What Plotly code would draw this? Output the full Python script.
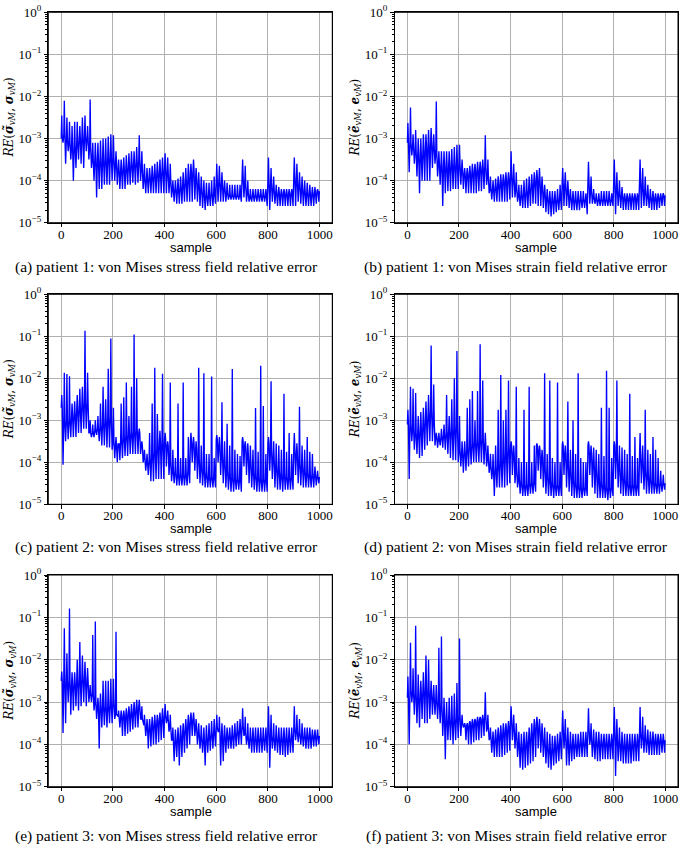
import plotly.graph_objects as go

# ---------------- data (log10 of relative error, one value per 10-sample block) ----------------
# each panel: hi = spike top, mid = band centre, lo = spike bottom, for blocks 0..99
a_hi = [-2.45, -2.1, -2.5, -2.6, -2.7, -2.6, -2.6, -2.7, -2.5, -2.45,
        -2.7, -2.07, -3.1, -3.1, -3.1, -3.05, -3.0, -3.0, -2.95, -2.9,
        -2.92, -3.3, -3.5, -3.5, -3.45, -3.4, -3.35, -3.3, -3.3, -3.2,
        -2.92, -3.3, -3.6, -3.7, -3.7, -3.65, -3.6, -3.55, -3.5, -3.45,
        -3.35, -3.45, -3.6, -4.0, -4.0, -3.95, -3.9, -3.8, -3.7, -3.6,
        -3.6, -3.5, -3.7, -3.8, -3.9, -4.0, -4.05, -4.05, -4.0, -3.9,
        -3.6, -3.65, -3.8, -4.0, -4.05, -4.1, -4.1, -4.1, -4.1, -4.1,
        -3.5, -3.65, -4.0, -4.2, -4.2, -4.2, -4.2, -4.2, -4.2, -4.2,
        -3.45, -3.7, -3.9, -4.1, -4.15, -4.2, -4.2, -4.2, -4.2, -4.2,
        -3.45, -3.6, -3.8, -3.9, -4.0, -4.05, -4.1, -4.15, -4.15, -4.2]
a_mid = [-3.0, -2.9, -3.0, -3.1, -3.2, -3.2, -3.1, -3.0, -2.95, -2.95,
         -3.0, -3.2, -3.5, -3.5, -3.5, -3.5, -3.5, -3.5, -3.45, -3.4,
         -3.45, -3.6, -3.75, -3.75, -3.7, -3.7, -3.65, -3.6, -3.6, -3.55,
         -3.5, -3.7, -3.95, -3.95, -3.9, -3.9, -3.85, -3.8, -3.8, -3.75,
         -3.7, -3.8, -4.0, -4.2, -4.2, -4.2, -4.15, -4.1, -4.0, -3.95,
         -3.8, -3.75, -3.95, -4.1, -4.2, -4.3, -4.35, -4.35, -4.3, -4.3,
         -4.0, -4.0, -4.1, -4.2, -4.3, -4.35, -4.35, -4.35, -4.35, -4.35,
         -3.9, -4.1, -4.3, -4.4, -4.35, -4.35, -4.35, -4.35, -4.35, -4.35,
         -4.0, -4.1, -4.2, -4.3, -4.3, -4.3, -4.3, -4.3, -4.3, -4.3,
         -3.9, -4.0, -4.1, -4.2, -4.25, -4.3, -4.3, -4.3, -4.3, -4.25]
a_lo = [-3.1, -3.6, -3.3, -3.5, -4.0, -3.7, -3.5, -3.6, -3.7, -3.3,
        -3.5, -3.7, -4.0, -4.4, -4.2, -4.2, -4.1, -4.1, -4.1, -4.0,
        -4.0, -4.1, -4.2, -4.2, -4.2, -4.1, -4.1, -4.05, -4.1, -4.05,
        -4.0, -4.2, -4.3, -4.3, -4.3, -4.3, -4.3, -4.3, -4.3, -4.3,
        -4.3, -4.3, -4.4, -4.5, -4.55, -4.55, -4.55, -4.5, -4.5, -4.5,
        -4.5, -4.45, -4.5, -4.6, -4.65, -4.7, -4.6, -4.6, -4.6, -4.55,
        -4.5, -4.5, -4.5, -4.5, -4.45, -4.45, -4.45, -4.45, -4.45, -4.5,
        -4.4, -4.5, -4.5, -4.5, -4.5, -4.5, -4.5, -4.5, -4.5, -4.6,
        -4.7, -4.5, -4.55, -4.6, -4.6, -4.6, -4.6, -4.6, -4.6, -4.6,
        -4.6, -4.5, -4.55, -4.6, -4.6, -4.6, -4.6, -4.6, -4.55, -4.5]

b_hi = [-2.63, -2.26, -2.9, -2.8, -3.0, -3.0, -2.9, -2.9, -2.8, -2.75,
        -2.9, -2.12, -3.3, -3.3, -3.3, -3.3, -3.3, -3.25, -3.2, -3.15,
        -3.15, -3.5, -3.7, -3.7, -3.65, -3.6, -3.6, -3.55, -3.55, -3.5,
        -2.92, -3.5, -3.9, -4.0, -3.95, -3.9, -3.85, -3.85, -3.8, -3.8,
        -3.3, -3.6, -3.8, -4.1, -4.1, -4.0, -3.95, -3.9, -3.85, -3.8,
        -3.75, -3.7, -3.9, -4.1, -4.2, -4.25, -4.25, -4.25, -4.2, -4.1,
        -3.7, -3.8, -4.0, -4.2, -4.25, -4.25, -4.25, -4.25, -4.25, -4.3,
        -3.55, -3.9, -4.2, -4.3, -4.3, -4.25, -4.25, -4.25, -4.25, -4.3,
        -3.5, -3.8, -4.0, -4.15, -4.3, -4.3, -4.3, -4.3, -4.3, -4.3,
        -3.5, -3.7, -3.9, -4.1, -4.2, -4.25, -4.3, -4.3, -4.3, -4.3]
b_mid = [-3.1, -3.1, -3.2, -3.3, -3.4, -3.4, -3.3, -3.2, -3.15, -3.1,
         -3.2, -3.35, -3.6, -3.65, -3.65, -3.65, -3.65, -3.6, -3.6, -3.6,
         -3.6, -3.75, -3.85, -3.85, -3.8, -3.8, -3.75, -3.75, -3.7, -3.7,
         -3.65, -3.9, -4.2, -4.2, -4.15, -4.1, -4.05, -4.0, -4.0, -3.95,
         -3.85, -3.95, -4.2, -4.35, -4.35, -4.3, -4.25, -4.2, -4.1, -4.0,
         -3.95, -3.95, -4.15, -4.3, -4.4, -4.45, -4.45, -4.45, -4.45, -4.4,
         -4.05, -4.1, -4.25, -4.4, -4.45, -4.45, -4.45, -4.45, -4.45, -4.45,
         -4.0, -4.25, -4.4, -4.45, -4.45, -4.45, -4.45, -4.45, -4.45, -4.45,
         -4.0, -4.2, -4.3, -4.35, -4.4, -4.4, -4.4, -4.4, -4.4, -4.4,
         -4.0, -4.15, -4.25, -4.35, -4.4, -4.4, -4.4, -4.4, -4.4, -4.35]
b_lo = [-3.8, -3.4, -3.6, -3.9, -4.3, -4.0, -4.0, -4.0, -4.0, -3.7,
        -3.6, -3.9, -4.1, -4.6, -4.3, -4.25, -4.25, -4.2, -4.2, -4.2,
        -4.1, -4.2, -4.3, -4.3, -4.3, -4.3, -4.3, -4.25, -4.25, -4.2,
        -4.1, -4.3, -4.45, -4.5, -4.5, -4.5, -4.5, -4.5, -4.5, -4.45,
        -4.4, -4.4, -4.5, -4.6, -4.65, -4.65, -4.65, -4.6, -4.55, -4.55,
        -4.6, -4.6, -4.65, -4.75, -4.8, -4.85, -4.8, -4.75, -4.7, -4.7,
        -4.6, -4.6, -4.65, -4.7, -4.7, -4.7, -4.7, -4.65, -4.65, -4.8,
        -4.55, -4.55, -4.55, -4.6, -4.6, -4.6, -4.6, -4.6, -4.6, -4.6,
        -4.8, -4.6, -4.65, -4.7, -4.7, -4.7, -4.7, -4.7, -4.7, -4.7,
        -4.65, -4.6, -4.6, -4.65, -4.7, -4.7, -4.7, -4.65, -4.6, -4.6]

c_hi = [-2.4, -1.87, -1.9, -1.95, -2.6, -2.55, -2.4, -2.25, -2.2, -0.87,
        -1.87, -3.0, -3.1, -3.0, -2.9, -2.6, -2.2, -2.5, -1.77, -1.05,
        -2.7, -3.4, -3.6, -2.6, -2.45, -2.1, -2.9, -2.2, -0.96, -2.0,
        -3.2, -3.5, -3.7, -3.8, -3.3, -2.6, -1.75, -2.85, -3.25, -1.89,
        -3.3, -3.5, -2.1, -3.7, -3.9, -2.6, -3.9, -2.1, -3.9, -3.4,
        -3.3, -3.4, -3.5, -1.75, -3.6, -1.88, -3.8, -3.8, -1.96, -3.9,
        -3.35, -3.4, -2.57, -3.5, -3.08, -3.6, -1.78, -3.7, -3.8, -3.85,
        -3.4, -3.5, -3.55, -3.6, -3.7, -2.71, -3.75, -1.70, -2.66, -3.8,
        -3.4, -2.07, -3.5, -3.55, -3.6, -3.7, -2.37, -3.75, -3.3, -3.8,
        -3.3, -3.55, -2.68, -3.6, -3.7, -3.4, -3.75, -3.8, -4.1, -4.2]
c_mid = [-2.7, -3.0, -3.0, -3.0, -2.9, -2.85, -2.75, -2.7, -2.6, -2.55,
         -2.6, -3.3, -3.3, -3.25, -3.2, -3.15, -3.05, -3.0, -2.95, -2.9,
         -3.5, -3.6, -3.55, -3.45, -3.4, -3.35, -3.3, -3.3, -3.25, -3.2,
         -3.3, -3.6, -3.9, -4.0, -3.95, -3.8, -3.7, -3.6, -3.5, -3.5,
         -3.45, -3.6, -4.0, -4.2, -4.25, -4.3, -4.3, -4.3, -4.3, -4.2,
         -3.5, -3.55, -3.7, -3.9, -4.1, -4.2, -4.3, -4.35, -4.35, -4.35,
         -3.45, -3.6, -3.8, -4.0, -4.2, -4.3, -4.35, -4.4, -4.4, -4.4,
         -3.5, -3.6, -3.8, -4.0, -4.2, -4.3, -4.35, -4.4, -4.4, -4.4,
         -3.55, -3.7, -3.9, -4.1, -4.2, -4.3, -4.3, -4.35, -4.35, -4.35,
         -3.65, -3.8, -4.0, -4.1, -4.2, -4.25, -4.3, -4.3, -4.3, -4.35]
c_lo = [-4.06, -3.5, -3.45, -3.4, -3.4, -3.4, -3.3, -3.3, -3.2, -3.2,
        -3.3, -3.4, -3.4, -3.35, -3.5, -3.6, -3.6, -3.65, -3.65, -3.7,
        -3.9, -4.0, -3.95, -3.9, -3.85, -3.85, -3.8, -3.8, -3.8, -3.8,
        -3.8, -4.0, -4.2, -4.3, -4.45, -4.45, -4.4, -4.4, -4.4, -4.4,
        -4.1, -4.3, -4.45, -4.5, -4.55, -4.55, -4.55, -4.55, -4.55, -4.5,
        -4.0, -4.2, -4.4, -4.5, -4.55, -4.6, -4.6, -4.6, -4.6, -4.6,
        -4.0, -4.3, -4.5, -4.6, -4.65, -4.7, -4.7, -4.65, -4.65, -4.7,
        -4.1, -4.3, -4.5, -4.6, -4.65, -4.7, -4.7, -4.7, -4.7, -4.7,
        -4.2, -4.4, -4.6, -4.65, -4.65, -4.7, -4.65, -4.65, -4.65, -4.65,
        -4.3, -4.5, -4.55, -4.6, -4.6, -4.6, -4.6, -4.6, -4.55, -4.5]

d_hi = [-2.75, -2.2, -2.25, -2.35, -2.9, -2.8, -2.7, -2.55, -2.4, -1.22,
        -2.15, -3.3, -3.3, -3.2, -3.1, -2.4, -2.9, -2.5, -2.0, -1.35,
        -2.9, -3.5, -3.5, -2.7, -2.5, -2.3, -3.0, -2.3, -1.19, -2.05,
        -3.3, -3.6, -3.8, -3.8, -3.6, -2.75, -1.92, -3.0, -2.75, -2.05,
        -3.5, -3.6, -2.2, -3.9, -4.0, -2.75, -4.0, -2.2, -4.0, -3.6,
        -3.55, -3.6, -3.7, -1.88, -3.8, -2.05, -3.9, -4.0, -2.1, -4.0,
        -3.5, -3.6, -2.55, -3.7, -3.0, -3.8, -1.88, -3.9, -4.0, -4.0,
        -3.5, -3.6, -3.65, -3.7, -3.8, -2.7, -3.85, -1.82, -2.7, -3.9,
        -3.5, -2.05, -3.6, -3.65, -3.7, -3.8, -2.37, -3.85, -3.4, -3.9,
        -3.3, -3.6, -2.75, -3.7, -3.8, -3.4, -3.7, -3.9, -4.2, -4.3]
d_mid = [-3.1, -3.1, -3.2, -3.3, -3.3, -3.2, -3.1, -2.95, -2.85, -2.75,
         -3.0, -3.4, -3.45, -3.4, -3.35, -3.3, -3.25, -3.2, -3.15, -3.1,
         -3.7, -3.8, -3.75, -3.7, -3.6, -3.55, -3.5, -3.5, -3.45, -3.4,
         -3.6, -3.9, -4.1, -4.2, -4.15, -4.05, -3.95, -3.85, -3.75, -3.65,
         -3.6, -3.8, -4.2, -4.4, -4.5, -4.55, -4.55, -4.5, -4.5, -4.45,
         -3.6, -3.7, -3.9, -4.1, -4.3, -4.4, -4.5, -4.55, -4.55, -4.55,
         -3.6, -3.8, -4.0, -4.2, -4.4, -4.5, -4.55, -4.6, -4.6, -4.6,
         -3.6, -3.8, -4.0, -4.2, -4.4, -4.5, -4.55, -4.6, -4.6, -4.6,
         -3.6, -3.8, -4.1, -4.3, -4.4, -4.5, -4.55, -4.55, -4.55, -4.55,
         -3.8, -4.0, -4.2, -4.3, -4.4, -4.45, -4.5, -4.5, -4.5, -4.5]
d_lo = [-4.4, -3.5, -3.7, -3.8, -3.9, -3.85, -3.7, -3.6, -3.5, -3.5,
        -3.6, -3.65, -3.6, -3.65, -3.7, -3.8, -3.9, -3.95, -3.95, -4.0,
        -4.1, -4.25, -4.2, -4.1, -4.05, -4.0, -4.0, -4.0, -4.0, -4.05,
        -4.1, -4.25, -4.4, -4.8, -4.6, -4.6, -4.6, -4.6, -4.55, -4.5,
        -4.3, -4.5, -4.6, -4.75, -4.8, -4.8, -4.8, -4.75, -4.75, -4.7,
        -4.2, -4.4, -4.6, -4.75, -4.8, -4.8, -4.85, -4.8, -4.8, -4.8,
        -4.3, -4.6, -4.7, -4.8, -4.85, -4.85, -4.85, -4.85, -4.8, -4.8,
        -4.3, -4.6, -4.75, -4.85, -4.85, -4.85, -4.85, -4.9, -4.85, -4.8,
        -4.4, -4.6, -4.75, -4.8, -4.8, -4.8, -4.8, -4.8, -4.8, -4.8,
        -4.5, -4.65, -4.75, -4.75, -4.75, -4.75, -4.75, -4.75, -4.7, -4.65]

e_hi = [-2.28, -1.26, -1.85, -0.79, -2.3, -2.3, -2.0, -1.58, -1.9, -2.05,
        -2.2, -2.6, -1.42, -1.1, -2.9, -2.8, -2.5, -2.5, -2.5, -2.45,
        -2.45, -1.34, -3.2, -3.2, -3.2, -3.15, -3.1, -3.05, -3.0, -2.95,
        -2.95, -3.1, -3.3, -3.4, -3.4, -3.35, -3.3, -3.3, -3.25, -3.15,
        -3.05, -3.2, -3.3, -3.6, -3.65, -3.6, -3.55, -3.5, -3.4, -3.3,
        -3.25, -3.25, -3.4, -3.5, -3.55, -3.6, -3.55, -3.5, -3.45, -3.4,
        -3.3, -3.35, -3.5, -3.55, -3.6, -3.6, -3.55, -3.5, -3.45, -3.4,
        -3.15, -3.35, -3.5, -3.6, -3.6, -3.6, -3.6, -3.6, -3.6, -3.6,
        -3.1, -3.3, -3.5, -3.55, -3.6, -3.6, -3.6, -3.6, -3.6, -3.6,
        -3.1, -3.3, -3.4, -3.5, -3.6, -3.6, -3.6, -3.65, -3.65, -3.65]
e_mid = [-2.5, -2.4, -2.5, -2.5, -2.6, -2.55, -2.5, -2.45, -2.4, -2.45,
         -2.5, -2.8, -2.8, -3.0, -3.1, -3.1, -3.1, -3.1, -3.1, -3.05,
         -3.0, -3.3, -3.35, -3.35, -3.3, -3.3, -3.25, -3.25, -3.2, -3.15,
         -3.1, -3.4, -3.55, -3.6, -3.6, -3.55, -3.5, -3.45, -3.4, -3.35,
         -3.3, -3.4, -3.6, -3.9, -3.9, -3.85, -3.8, -3.7, -3.6, -3.5,
         -3.4, -3.4, -3.6, -3.75, -3.85, -3.9, -3.85, -3.8, -3.75, -3.7,
         -3.6, -3.7, -3.8, -3.8, -3.8, -3.8, -3.8, -3.75, -3.7, -3.65,
         -3.55, -3.75, -3.85, -3.85, -3.85, -3.85, -3.85, -3.85, -3.85, -3.85,
         -3.6, -3.8, -3.85, -3.85, -3.85, -3.85, -3.85, -3.85, -3.85, -3.85,
         -3.6, -3.7, -3.75, -3.8, -3.8, -3.8, -3.8, -3.8, -3.8, -3.8]
e_lo = [-3.73, -3.5, -3.0, -3.3, -3.2, -3.1, -3.2, -3.1, -3.0, -3.1,
        -3.0, -3.0, -3.2, -3.4, -4.1, -3.6, -3.55, -3.6, -3.5, -3.5,
        -3.4, -3.3, -3.6, -3.8, -3.8, -3.75, -3.7, -3.65, -3.6, -3.6,
        -3.4, -3.5, -3.8, -4.1, -4.05, -4.0, -4.0, -3.95, -3.9, -3.85,
        -3.5, -3.7, -3.9, -4.4, -4.3, -4.5, -4.3, -4.2, -4.1, -4.0,
        -3.8, -3.8, -4.0, -4.1, -4.2, -4.5, -4.2, -4.15, -4.1, -4.05,
        -3.7, -4.5, -4.4, -4.2, -4.1, -4.1, -4.1, -4.05, -4.0, -4.0,
        -3.8, -4.0, -4.1, -4.2, -4.2, -4.2, -4.2, -4.2, -4.15, -4.2,
        -4.55, -4.1, -4.15, -4.2, -4.25, -4.25, -4.3, -4.25, -4.2, -4.2,
        -3.9, -3.95, -4.0, -4.05, -4.1, -4.1, -4.1, -4.05, -4.05, -4.0]

f_hi = [-2.4, -1.6, -2.2, -1.2, -2.35, -2.5, -2.3, -1.9, -2.0, -2.5,
        -2.6, -2.6, -1.72, -1.45, -2.9, -3.0, -2.9, -2.85, -2.8, -2.55,
        -1.5, -3.3, -3.5, -3.5, -3.45, -3.4, -3.4, -3.35, -3.35, -3.3,
        -2.77, -3.3, -3.6, -3.7, -3.65, -3.6, -3.55, -3.5, -3.5, -3.45,
        -3.1, -3.3, -3.5, -3.7, -3.75, -3.7, -3.7, -3.6, -3.5, -3.4,
        -3.35, -3.4, -3.5, -3.6, -3.7, -3.75, -3.8, -3.8, -3.75, -3.7,
        -3.2, -3.4, -3.6, -3.7, -3.75, -3.75, -3.75, -3.7, -3.7, -3.7,
        -3.15, -3.5, -3.65, -3.7, -3.7, -3.75, -3.75, -3.75, -3.75, -3.75,
        -3.12, -3.4, -3.6, -3.7, -3.75, -3.75, -3.75, -3.75, -3.75, -3.75,
        -3.12, -3.35, -3.55, -3.65, -3.7, -3.7, -3.75, -3.75, -3.75, -3.75]
f_mid = [-2.9, -2.7, -2.8, -2.8, -2.9, -2.8, -2.7, -2.65, -2.7, -2.8,
         -2.9, -2.95, -3.0, -3.1, -3.35, -3.4, -3.4, -3.4, -3.4, -3.35,
         -3.3, -3.5, -3.55, -3.55, -3.5, -3.5, -3.45, -3.45, -3.4, -3.4,
         -3.3, -3.6, -3.85, -3.9, -3.85, -3.8, -3.75, -3.7, -3.65, -3.6,
         -3.4, -3.6, -3.8, -4.0, -4.05, -4.0, -3.95, -3.85, -3.75, -3.6,
         -3.5, -3.6, -3.8, -3.95, -4.05, -4.1, -4.1, -4.05, -4.0, -3.95,
         -3.6, -3.8, -3.95, -4.0, -4.0, -4.0, -4.0, -3.95, -3.95, -3.95,
         -3.6, -3.85, -3.95, -3.95, -3.95, -3.95, -3.95, -3.95, -3.95, -3.95,
         -3.6, -3.85, -3.95, -4.0, -4.0, -4.0, -4.0, -4.0, -3.95, -3.95,
         -3.7, -3.8, -3.85, -3.9, -3.9, -3.9, -3.9, -3.9, -3.9, -3.9]
f_lo = [-4.0, -3.0, -3.3, -3.5, -3.6, -3.4, -3.5, -3.5, -3.4, -3.3,
        -3.3, -3.4, -3.5, -3.8, -4.35, -3.9, -3.9, -4.0, -3.9, -3.85,
        -3.8, -3.6, -3.9, -4.0, -4.0, -3.95, -3.9, -3.9, -3.85, -3.8,
        -3.7, -3.9, -4.2, -4.3, -4.3, -4.3, -4.3, -4.25, -4.2, -4.15,
        -3.9, -4.1, -4.3, -4.55, -4.6, -4.55, -4.5, -4.45, -4.4, -4.3,
        -4.1, -4.2, -4.3, -4.45, -4.55, -4.6, -4.5, -4.45, -4.4, -4.35,
        -4.1, -4.5, -4.5, -4.4, -4.35, -4.3, -4.3, -4.3, -4.3, -4.3,
        -4.0, -4.3, -4.35, -4.4, -4.4, -4.35, -4.35, -4.35, -4.35, -4.35,
        -4.75, -4.4, -4.4, -4.45, -4.45, -4.45, -4.45, -4.4, -4.4, -4.4,
        -4.1, -4.2, -4.2, -4.25, -4.25, -4.25, -4.25, -4.25, -4.2, -4.2]

captions = [
    "(a) patient 1: von Mises stress field relative error",
    "(b) patient 1: von Mises strain field relative error",
    "(c) patient 2: von Mises stress field relative error",
    "(d) patient 2: von Mises strain field relative error",
    "(e) patient 3: von Mises stress field relative error",
    "(f) patient 3: von Mises strain field relative error",
]
stress_label = "<i>RE</i>(<b><i>σ̃</i></b><sub><i>vM</i></sub>, <b><i>σ</i></b><sub><i>vM</i></sub>)"
strain_label = "<i>RE</i>(<b><i>ẽ</i></b><sub><i>vM</i></sub>, <b><i>e</i></b><sub><i>vM</i></sub>)"
x_ticks = [0, 200, 400, 600, 800, 1000]
y_exps = [-5, -4, -3, -2, -1, 0]

panels = [(a_hi, a_mid, a_lo), (b_hi, b_mid, b_lo), (c_hi, c_mid, c_lo),
          (d_hi, d_mid, d_lo), (e_hi, e_mid, e_lo), (f_hi, f_mid, f_lo)]

# ---------------- layout geometry (pixels) ----------------
W, H = 685, 845
col_px = [(48.3, 332.3), (394.5, 678.0)]
row_px = [(12.3, 222.7), (294.3, 504.3), (575.0, 786.7)]
caption_y_px = [266.7, 547.0, 836.0]
sample_y_px = [247.5, 528.5, 811.0]
caption_x_px = [166, 516]
sample_x_px = [190.5, 536.0]
ylabel_x_px = [10, 356]

fig = go.Figure()

def px_x(v):
    return v / W

def px_y(v):
    return 1 - v / H

annotations = []
shapes = []
minor_vals = [k * 10.0 ** e for e in range(-5, 0) for k in range(2, 10)]

for i, (hi, mid, lo) in enumerate(panels):
    r, c = divmod(i, 2)
    xs, ys = [], []
    for k in range(len(hi)):
        b = 10 * k
        xs += [b, b + 2, b + 4, b + 7]
        ys += [10 ** mid[k], 10 ** hi[k], 10 ** mid[k], 10 ** lo[k]]
    xs.append(999)
    ys.append(10 ** mid[-1])
    n = i + 1
    sfx = "" if n == 1 else str(n)
    fig.add_trace(go.Scatter(x=xs, y=ys, mode="lines",
                             line=dict(color="#0000ff", width=1.35),
                             xaxis=f"x{sfx}", yaxis=f"y{sfx}", showlegend=False,
                             hoverinfo="skip"))
    x0, x1 = col_px[c]
    y0, y1 = row_px[r]
    axx = dict(domain=[px_x(x0), px_x(x1)], range=[-50, 1049], anchor=f"y{sfx}",
               automargin=False,
               tickvals=x_ticks, ticktext=[str(t) for t in x_ticks],
               showline=True, mirror=True, linecolor="black", linewidth=1,
               ticks="outside", ticklen=3.5, tickwidth=0.8, tickcolor="black",
               ticklabelstandoff=-4,
               showgrid=True, gridcolor="#b0b0b0", gridwidth=0.8, zeroline=False,
               tickfont=dict(family="Liberation Serif", size=13, color="black"))
    axy = dict(domain=[px_y(y1), px_y(y0)], type="log", range=[-5, 0], anchor=f"x{sfx}",
               automargin=False,
               tickvals=[10.0 ** e for e in y_exps],
               ticktext=["10<sup>%s</sup>" % (str(e).replace("-", "−")) for e in y_exps],
               showline=True, mirror=True, linecolor="black", linewidth=1,
               ticks="outside", ticklen=3.5, tickwidth=0.8, tickcolor="black",
               showgrid=True, gridcolor="#b0b0b0", gridwidth=0.8, zeroline=False,
               minor=dict(tickvals=minor_vals, ticks="outside", ticklen=2,
                          tickwidth=0.6, tickcolor="black", showgrid=False),
               tickfont=dict(family="Liberation Serif", size=13, color="black"))
    fig.update_layout({f"xaxis{sfx}": axx, f"yaxis{sfx}": axy})

    shapes.append(dict(type="rect", xref=f"x{sfx} domain", yref=f"y{sfx} domain",
                       x0=0, x1=1, y0=0, y1=1, layer="above",
                       line=dict(color="black", width=1), fillcolor="rgba(0,0,0,0)"))

    annotations.append(dict(text=captions[i], xref="paper", yref="paper",
                            x=px_x(caption_x_px[c]), y=px_y(caption_y_px[r]),
                            xanchor="center", yanchor="middle", showarrow=False,
                            font=dict(family="Liberation Serif", size=15.5, color="black")))
    annotations.append(dict(text="sample", xref="paper", yref="paper",
                            x=px_x(sample_x_px[c]), y=px_y(sample_y_px[r]),
                            xanchor="center", yanchor="middle", showarrow=False,
                            font=dict(family="Liberation Sans", size=13, color="black")))
    annotations.append(dict(text=stress_label if c == 0 else strain_label,
                            xref="paper", yref="paper",
                            x=px_x(ylabel_x_px[c]), y=px_y((y0 + y1) / 2),
                            xanchor="center", yanchor="middle", textangle=-90,
                            showarrow=False,
                            font=dict(family="DejaVu Serif", size=12, color="black")))

fig.update_layout(width=W, height=H, margin=dict(l=0, r=0, t=0, b=0, autoexpand=False),
                  template="none",
                  paper_bgcolor="white", plot_bgcolor="white",
                  annotations=annotations, shapes=shapes)

fig.write_html("out.html", config={"displayModeBar": False},
               post_script="document.body.style.margin='0px';document.body.style.padding='0px';")
